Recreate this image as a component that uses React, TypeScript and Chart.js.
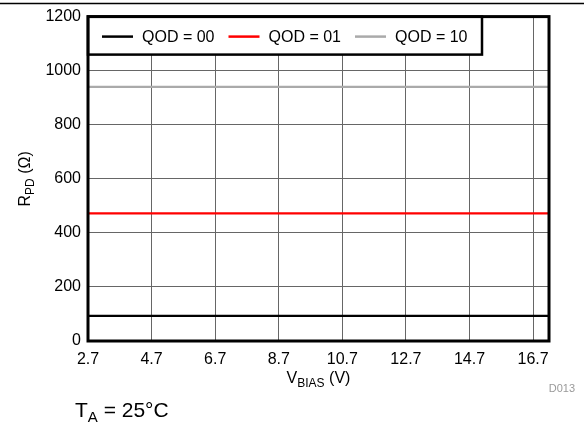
import React, { useEffect, useRef } from 'react';
import { Chart, registerables } from 'chart.js';

Chart.register(...registerables);

const vbias = [2.7, 4.7, 6.7, 8.7, 10.7, 12.7, 14.7, 16.7, 17.2];
const qod00 = [93, 93, 93, 93, 93, 93, 93, 93, 93];
const qod01 = [472, 472, 472, 472, 472, 472, 472, 472, 472];
const qod10 = [940, 940, 940, 940, 940, 940, 940, 940, 940];
const seriesLabels = ['QOD = 00', 'QOD = 01', 'QOD = 10'];
const seriesColors = ['#000000', '#ff0000', '#aaaaaa'];
const xTickValues = [2.7, 4.7, 6.7, 8.7, 10.7, 12.7, 14.7, 16.7];
const yTickValues = [0, 200, 400, 600, 800, 1000, 1200];
const xMin = 2.7;
const xMax = 17.2;
const yMin = 0;
const yMax = 1200;

const FONT = '"Liberation Sans", Arial, Helvetica, sans-serif';

type Part = { t: string; sub?: boolean };

function drawRich(
  ctx: CanvasRenderingContext2D,
  parts: Part[],
  x: number,
  y: number,
  align: 'left' | 'center' | 'right',
  size: number,
  subSize: number,
  color: string
) {
  ctx.save();
  ctx.fillStyle = color;
  ctx.textBaseline = 'alphabetic';
  ctx.textAlign = 'left';
  let total = 0;
  const widths = parts.map((p) => {
    ctx.font = `${p.sub ? subSize : size}px ${FONT}`;
    const w = ctx.measureText(p.t).width;
    total += w;
    return w;
  });
  let cx = align === 'left' ? x : align === 'center' ? x - total / 2 : x - total;
  parts.forEach((p, i) => {
    ctx.font = `${p.sub ? subSize : size}px ${FONT}`;
    ctx.fillText(p.t, cx, p.sub ? y + size * 0.22 : y);
    cx += widths[i];
  });
  ctx.restore();
}

const decorPlugin = {
  id: 'decor',
  afterDraw(chart: any) {
    const ctx: CanvasRenderingContext2D = chart.ctx;
    const a = chart.chartArea;
    ctx.save();
    // top rule
    ctx.strokeStyle = '#000';
    ctx.lineWidth = 1.5;
    ctx.beginPath();
    ctx.moveTo(0, 3.5);
    ctx.lineTo(chart.width, 3.5);
    ctx.stroke();

    // legend box
    const lx = a.left;
    const ly = a.top;
    const lw = 394;
    const lh = 38;
    ctx.fillStyle = '#fff';
    ctx.fillRect(lx, ly, lw, lh);
    ctx.strokeStyle = '#000';
    ctx.lineWidth = 2.5;
    ctx.strokeRect(lx, ly, lw, lh);
    const midY = ly + 20;
    seriesLabels.forEach((lab, i) => {
      const sx = lx + 14 + i * 126.5;
      ctx.strokeStyle = seriesColors[i];
      ctx.lineWidth = 2.5;
      ctx.beginPath();
      ctx.moveTo(sx, midY);
      ctx.lineTo(sx + 31, midY);
      ctx.stroke();
      ctx.fillStyle = '#000';
      ctx.font = `16px ${FONT}`;
      ctx.textBaseline = 'middle';
      ctx.textAlign = 'left';
      ctx.fillText(lab, sx + 40, midY + 1);
    });

    // plot frame
    ctx.strokeStyle = '#000';
    ctx.lineWidth = 3;
    ctx.strokeRect(a.left, a.top, a.right - a.left, a.bottom - a.top);
    ctx.restore();

    // axis titles
    const cxPlot = (a.left + a.right) / 2;
    const cyPlot = (a.top + a.bottom) / 2;
    drawRich(ctx, [{ t: 'V' }, { t: 'BIAS', sub: true }, { t: ' (V)' }], cxPlot, 383, 'center', 16, 12, '#000');
    ctx.save();
    ctx.translate(30, cyPlot);
    ctx.rotate(-Math.PI / 2);
    drawRich(ctx, [{ t: 'R' }, { t: 'PD', sub: true }, { t: ' (Ω)' }], 0, 0, 'center', 16, 12, '#000');
    ctx.restore();

    drawRich(ctx, [{ t: 'D013' }], 575, 392, 'right', 11, 11, '#999');
    drawRich(ctx, [{ t: 'T' }, { t: 'A', sub: true }, { t: ' = 25°C' }], 75, 417, 'left', 21, 15, '#000');
  },
};

export default function App() {
  const ref = useRef<HTMLCanvasElement | null>(null);
  useEffect(() => {
    document.body.style.margin = '0';
    if (!ref.current) return;
    const mk = (i: number, data: number[]) => ({
      label: seriesLabels[i],
      data: vbias.map((x, k) => ({ x, y: data[k] })),
      borderColor: seriesColors[i],
      backgroundColor: seriesColors[i],
      borderWidth: 2.3,
      pointRadius: 0,
      tension: 0,
    });
    const chart = new Chart(ref.current, {
      type: 'line',
      data: {
        datasets: [mk(0, qod00), mk(1, qod01), mk(2, qod10)],
      },
      options: {
        animation: false,
        responsive: false,
        devicePixelRatio: 1,
        layout: { padding: { top: 15, right: 35, left: 0, bottom: 0 } },
        plugins: { legend: { display: false }, tooltip: { enabled: false } },
        scales: {
          x: {
            type: 'linear',
            min: xMin,
            max: xMax,
            afterBuildTicks: (s: any) => {
              s.ticks = xTickValues.map((v) => ({ value: v }));
            },
            afterFit: (s: any) => {
              s.height = 82;
            },
            ticks: {
              color: '#000',
              font: { family: FONT, size: 16 },
              padding: 9,
              maxRotation: 0,
              callback: (v: any) => Number(v).toFixed(1),
            },
            grid: { color: '#666', lineWidth: 1, drawTicks: false },
            border: { display: false },
          },
          y: {
            type: 'linear',
            min: yMin,
            max: yMax,
            afterBuildTicks: (s: any) => {
              s.ticks = yTickValues.map((v) => ({ value: v }));
            },
            afterFit: (s: any) => {
              s.width = 88;
            },
            ticks: {
              color: '#000',
              font: { family: FONT, size: 16 },
              padding: 7,
              callback: (v: any) => String(v),
            },
            grid: { color: '#666', lineWidth: 1, drawTicks: false },
            border: { display: false },
          },
        },
      },
      plugins: [decorPlugin],
    } as any);
    return () => chart.destroy();
  }, []);
  return (
    <div style={{ position: 'absolute', left: 0, top: 0, width: 584, height: 423 }}>
      <canvas ref={ref} width={584} height={423} style={{ width: 584, height: 423 }} />
    </div>
  );
}
